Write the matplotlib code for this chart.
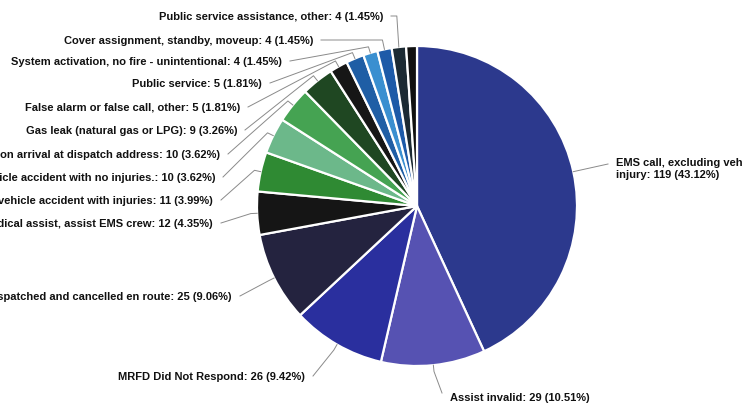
import matplotlib
matplotlib.use("Agg")
import matplotlib.pyplot as plt
import numpy as np

# ---- data ----
categories = [
    "EMS call, excluding veh\ninjury",
    "Assist invalid",
    "MRFD Did Not Respond",
    "Dispatched and cancelled en route",
    "Medical assist, assist EMS crew",
    "Motor vehicle accident with injuries",
    "Motor vehicle accident with no injuries.",
    "No incident found on arrival at dispatch address",
    "Gas leak (natural gas or LPG)",
    "False alarm or false call, other",
    "Public service",
    "System activation, no fire - unintentional",
    "Cover assignment, standby, moveup",
    "Public service assistance, other",
    "",
]
values = [119, 29, 26, 25, 12, 11, 10, 10, 9, 5, 5, 4, 4, 4, 3]
colors = ["#2c398d", "#5652b2", "#2a2f9e", "#24233f", "#151515", "#2f8a33",
          "#6cb88a", "#45a352", "#1f4722", "#161616", "#1f5ea5", "#3a8fd0",
          "#1d5aa8", "#1c2a33", "#101010"]

# ---- layout (pixels) ----
W, H = 755, 410
CX, CY, R = 417, 207, 160

def to_data(px, py):
    return (px - CX) / R, (CY - py) / R

# label anchor positions (pixel x of text edge, pixel y center, alignment, elbow)
label_pos = [
    (616, 169, "left", False),
    (450, 398, "left", False),
    (305, 377, "right", False),
    (232, 297, "right", False),
    (213, 224, "right", False),
    (213, 201, "right", False),
    (215, 178, "right", False),
    (220, 155, "right", False),
    (237, 131, "right", False),
    (240, 108, "right", False),
    (262, 84, "right", False),
    (282, 62, "right", False),
    (313, 41, "right", True),
    (383, 17, "right", True),
    None,
]

fig = plt.figure(figsize=(W / 100, H / 100), dpi=100)
ax = fig.add_axes([0, 0, 1, 1])

wedges, _ = ax.pie(values, colors=colors, startangle=90, counterclock=False,
                   radius=1.0, center=(0, 0),
                   wedgeprops=dict(edgecolor="white", linewidth=1.6))
ax.set_xlim(-CX / R, (W - CX) / R)
ax.set_ylim((CY - H) / R, CY / R)
ax.set_aspect("equal")
ax.axis("off")

total = sum(values)
for w, cat, v, pos in zip(wedges, categories, values, label_pos):
    if pos is None or not cat:
        continue
    pct = 100 * v / total
    txt = f"{cat}: {v} ({pct:.2f}%)"
    lx, ly, ha, elbow = pos
    tx, ty = to_data(lx, ly)
    ax.text(tx, ty, txt, ha=ha, va="center", fontsize=8.0,
            fontweight="bold", family="Liberation Sans", color="#111111",
            linespacing=1.3)
    theta = np.deg2rad((w.theta1 + w.theta2) / 2)
    p0 = (np.cos(theta), np.sin(theta))
    gap = 8 / R
    if ha == "right":
        p2 = (tx + gap, ty)
    else:
        p2 = (tx - gap, ty + 4 / R)
    if elbow:
        p1 = (p0[0] - 2 / R, ty)
    else:
        p1 = (1.04 * np.cos(theta), 1.04 * np.sin(theta))
    ax.plot([p0[0], p1[0], p2[0]], [p0[1], p1[1], p2[1]],
            color="#8a8a8a", linewidth=0.7)

fig.savefig("out.png", dpi=100)
